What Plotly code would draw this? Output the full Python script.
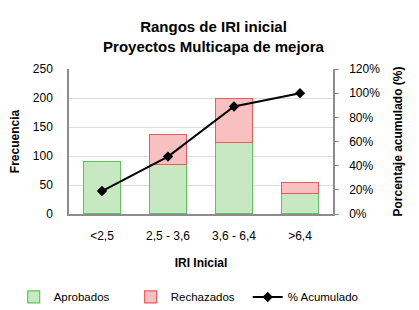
import plotly.graph_objects as go

categorias = ["<2,5", "2,5 - 3,6", "3,6 - 6,4", ">6,4"]
aprobados = [91, 85, 123, 35]
rechazados = [None, 52, 76, 19]
acumulado = [0.19, 0.475, 0.89, 1.0]

FONT = "Liberation Sans, Arial, sans-serif"

fig = go.Figure()
fig.add_trace(go.Bar(
    x=categorias, y=aprobados, name="Aprobados",
    marker=dict(color="#c8e8c4", line=dict(color="#5cc45c", width=1.2)),
))
fig.add_trace(go.Bar(
    x=categorias, y=rechazados, name="Rechazados",
    marker=dict(color="#f8c0c0", line=dict(color="#ec5a5a", width=1.2)),
))
fig.add_trace(go.Scatter(
    x=categorias, y=acumulado, name="% Acumulado", yaxis="y2",
    mode="lines+markers",
    line=dict(color="black", width=2),
    marker=dict(symbol="diamond", size=8, color="black"),
))

fig.update_layout(
    width=411, height=302,
    margin=dict(l=61, r=86, t=61, b=96, autoexpand=False),
    paper_bgcolor="white", plot_bgcolor="white",
    font=dict(family=FONT, size=12, color="black"),
    barmode="stack", bargap=0.43,
    title=dict(
        text="<b>Rangos de IRI inicial<br>Proyectos Multicapa de mejora</b>",
        x=0.5, xanchor="center", y=0.92, yanchor="middle",
        font=dict(family=FONT, size=15, color="black"),
    ),
    xaxis=dict(
        showline=True, linecolor="#8c8c8c", linewidth=1.5,
        ticks="", showgrid=False, ticklabelstandoff=10,
        title=dict(text="<b>IRI Inicial</b>", font=dict(size=12), standoff=16),
        tickfont=dict(size=12),
    ),
    yaxis=dict(
        range=[0, 250], dtick=50, side="left",
        showline=True, linecolor="#8c8c8c", linewidth=1.5,
        showgrid=True, gridcolor="#dcdcdc", gridwidth=1,
        ticks="", zeroline=False, ticklabelstandoff=12,
        title=dict(text="<b>Frecuencia</b>", font=dict(size=12), standoff=18),
        tickfont=dict(size=12),
    ),
    yaxis2=dict(
        overlaying="y", side="right",
        range=[0, 1.2], dtick=0.2, tickformat=".0%",
        showline=True, linecolor="#8c8c8c", linewidth=1.5,
        showgrid=False, zeroline=False, ticks="outside", ticklen=4, tickcolor="#8c8c8c",
        ticklabelstandoff=8,
        title=dict(text="<b>Porcentaje acumulado (%)</b>", font=dict(size=12), standoff=14),
        tickfont=dict(size=12),
    ),
    legend=dict(
        orientation="h", x=1.12, xanchor="right", xref="paper",
        y=-0.572, yanchor="middle", yref="paper",
        font=dict(size=11.5), traceorder="normal", itemwidth=30,
        entrywidth=72, entrywidthmode="pixels", tracegroupgap=0,
    ),
    showlegend=True,
)

fig.write_html("out.html")
